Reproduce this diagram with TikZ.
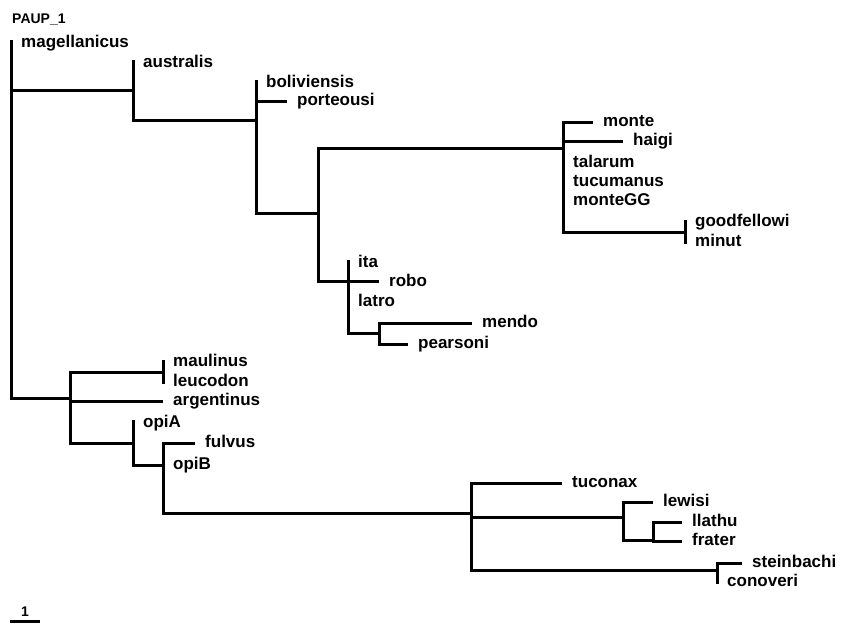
\documentclass[tikz,border=0pt]{standalone}
\usepackage{fontspec}
\setmainfont{Liberation Sans}
\begin{document}
\begin{tikzpicture}[x=1pt,y=-1pt,
  br/.style={line width=3pt, line join=miter},
  lab/.style={anchor=west, inner sep=0pt, font=\bfseries\fontsize{17}{17}\selectfont, text height=12pt, text depth=3.5pt},
  ttl/.style={anchor=base west, inner sep=0pt, font=\bfseries\fontsize{14}{14}\selectfont}]
\useasboundingbox (0,0) rectangle (846,625);
\node[ttl] (title) at (12,23) {PAUP\_1};
% internal nodes (x of node, y of incoming branch)
\coordinate (r) at (11,90);
\coordinate (A) at (133,90);
\coordinate (B) at (256,120);
\coordinate (C) at (318,213);
\coordinate (D) at (563,148);
\coordinate (E) at (685,232);
\coordinate (F) at (348,281);
\coordinate (G) at (379,333);
\coordinate (H) at (70,398);
\coordinate (I) at (163,372);
\coordinate (J) at (133,443);
\coordinate (K) at (163,465);
\coordinate (L) at (471,513);
\coordinate (M) at (623,517);
\coordinate (N) at (653,540);
\coordinate (O) at (717,570);
% leaf ends / ticks
\coordinate (magt) at (11,40);
\coordinate (aust) at (133,60);
\coordinate (bolt) at (256,80);
\coordinate (port) at (287,101);
\coordinate (mont) at (593,122);
\coordinate (haig) at (623,141);
\coordinate (goot) at (685,220);
\coordinate (mint) at (685,244);
\coordinate (itat) at (348,260);
\coordinate (robt) at (379,281);
\coordinate (mend) at (472,323);
\coordinate (pear) at (408,344);
\coordinate (maut) at (163,360);
\coordinate (leut) at (163,384);
\coordinate (arge) at (163,401);
\coordinate (opAt) at (133,420);
\coordinate (fulv) at (195,443);
\coordinate (tuco) at (562,483);
\coordinate (lewi) at (653,502);
\coordinate (llat) at (682,522);
\coordinate (frat) at (682,541);
\coordinate (stei) at (742,563);
\coordinate (cont) at (717,584);
% branches
\draw[br] (r) |- (magt);
\draw[br] (r) |- (A);
\draw[br] (r) |- (H);
\draw[br] (A) |- (aust);
\draw[br] (A) |- (B);
\draw[br] (B) |- (bolt);
\draw[br] (B) |- (port);
\draw[br] (B) |- (C);
\draw[br] (C) |- (D);
\draw[br] (C) |- (F);
\draw[br] (D) |- (mont);
\draw[br] (D) |- (haig);
\draw[br] (D) |- (E);
\draw[br] (E) |- (goot);
\draw[br] (E) |- (mint);
\draw[br] (F) |- (itat);
\draw[br] (F) |- (robt);
\draw[br] (F) |- (G);
\draw[br] (G) |- (mend);
\draw[br] (G) |- (pear);
\draw[br] (H) |- (I);
\draw[br] (H) |- (arge);
\draw[br] (H) |- (J);
\draw[br] (I) |- (maut);
\draw[br] (I) |- (leut);
\draw[br] (J) |- (opAt);
\draw[br] (J) |- (K);
\draw[br] (K) |- (fulv);
\draw[br] (K) |- (L);
\draw[br] (L) |- (tuco);
\draw[br] (L) |- (M);
\draw[br] (L) |- (O);
\draw[br] (M) |- (lewi);
\draw[br] (M) |- (N);
\draw[br] (N) |- (llat);
\draw[br] (N) |- (frat);
\draw[br] (O) |- (stei);
\draw[br] (O) |- (cont);
% labels
\node[lab] (l1) at (21,43) {magellanicus};
\node[lab] (l2) at (143,63) {australis};
\node[lab] (l3) at (266,83) {boliviensis};
\node[lab] (l4) at (297,101) {porteousi};
\node[lab] (l5) at (603,122) {monte};
\node[lab] (l6) at (633,141) {haigi};
\node[lab] (l7) at (573,163) {talarum};
\node[lab] (l8) at (573,182) {tucumanus};
\node[lab] (l9) at (573,201) {monteGG};
\node[lab] (l10) at (695,222) {goodfellowi};
\node[lab] (l11) at (695,242) {minut};
\node[lab] (l12) at (358,263) {ita};
\node[lab] (l13) at (389,282) {robo};
\node[lab] (l14) at (358,302) {latro};
\node[lab] (l15) at (482,323) {mendo};
\node[lab] (l16) at (418,344) {pearsoni};
\node[lab] (l17) at (173,362) {maulinus};
\node[lab] (l18) at (173,382) {leucodon};
\node[lab] (l19) at (173,401) {argentinus};
\node[lab] (l20) at (143,423) {opiA};
\node[lab] (l21) at (205,443) {fulvus};
\node[lab] (l22) at (173,465) {opiB};
\node[lab] (l23) at (572,483) {tuconax};
\node[lab] (l24) at (663,502) {lewisi};
\node[lab] (l25) at (692,522) {llathu};
\node[lab] (l26) at (692,541) {frater};
\node[lab] (l27) at (752,563) {steinbachi};
\node[lab] (l28) at (727,582) {conoveri};
% scale bar
\coordinate (s1) at (10,621);
\coordinate (s2) at (40,621);
\draw[br] (s1) -- (s2);
\node[ttl, anchor=base] (sc) at (25,616) {1};
\end{tikzpicture}
\end{document}
